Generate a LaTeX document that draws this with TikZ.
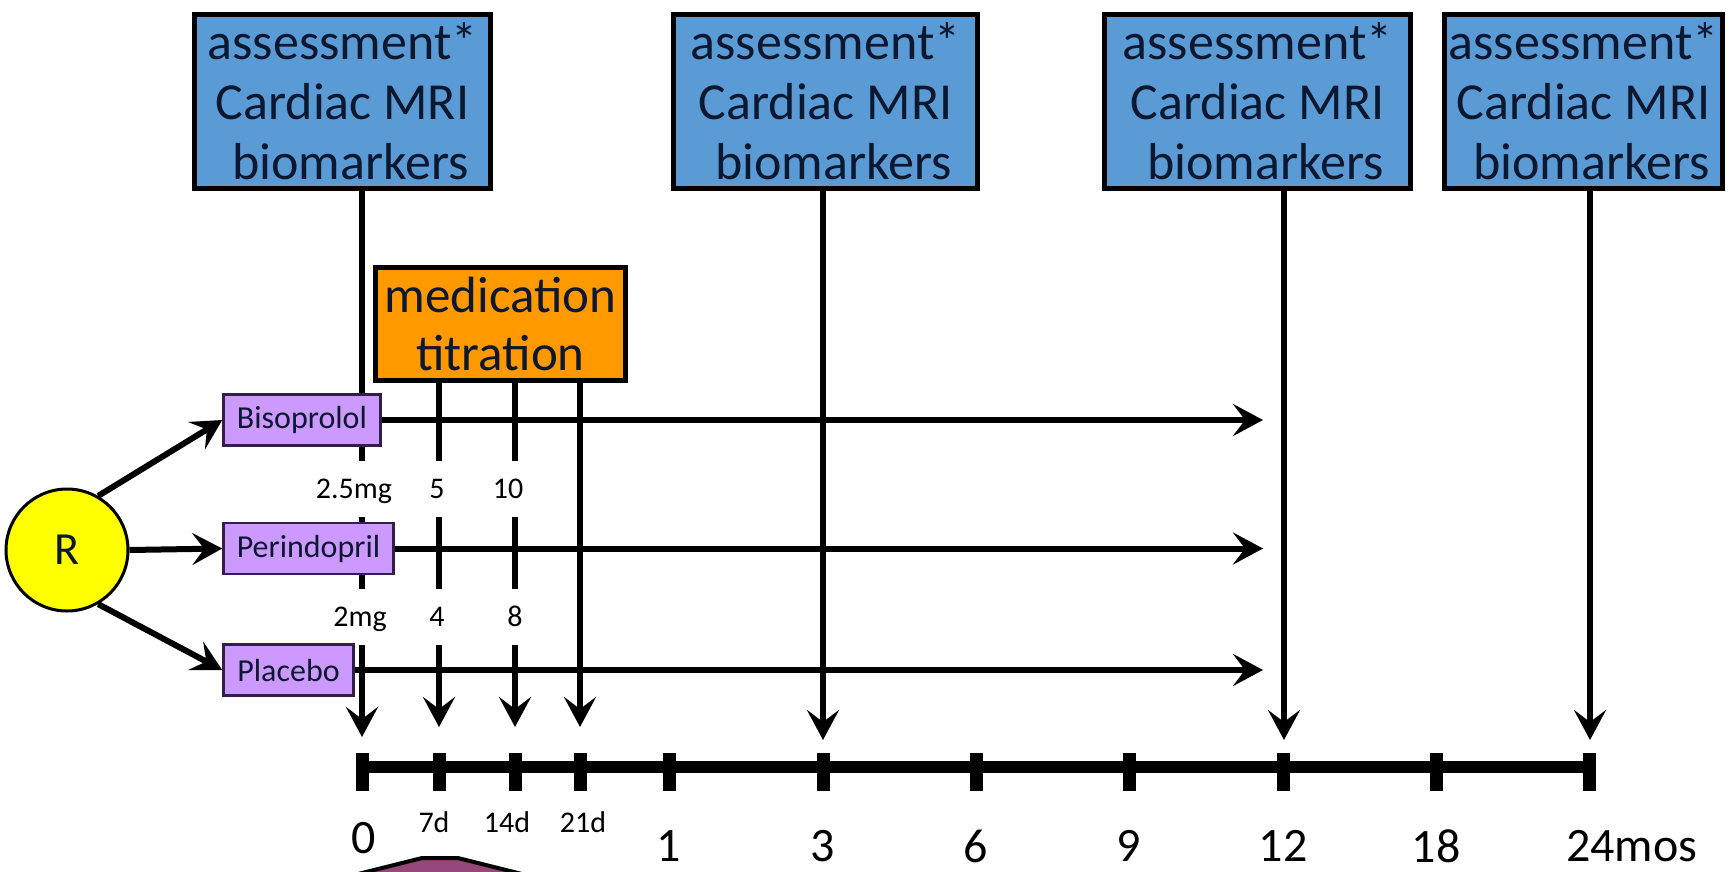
\documentclass[tikz,border=0pt]{standalone}
\usepackage{fontspec}
\setmainfont{Carlito}
\usetikzlibrary{arrows.meta}
\definecolor{assessblue}{RGB}{91,155,213}
\definecolor{medorange}{RGB}{255,153,0}
\definecolor{drugpurple}{RGB}{204,153,255}
\definecolor{drugborder}{RGB}{50,30,70}
\definecolor{ryellow}{RGB}{255,255,0}
\definecolor{plum}{RGB}{150,72,122}
\definecolor{boxtext}{RGB}{12,24,48}
\begin{document}
\begin{tikzpicture}[x=1pt,y=-1pt,
  assess/.style={draw=black,line width=5pt,fill=assessblue,text=boxtext,align=center,inner sep=0pt,
    minimum height=174pt,font=\fontsize{52}{60}\selectfont},
  medbox/.style={draw=black,line width=5pt,fill=medorange,text=boxtext,align=center,inner sep=0pt,
    font=\fontsize{51}{58}\selectfont},
  drug/.style={draw=drugborder,line width=2.5pt,fill=drugpurple,text=boxtext,inner sep=0pt,
    minimum height=51pt,font=\fontsize{32}{32}\selectfont},
  rnode/.style={circle,draw=black,line width=3pt,fill=ryellow,text=boxtext,minimum size=122pt,inner sep=0pt,
    font=\fontsize{46}{46}\selectfont},
  arr/.style={line width=6pt,-{Stealth[length=30pt,width=32pt,inset=12pt]}},
  doselab/.style={fill=white,inner xsep=2pt,inner ysep=0pt,text height=19pt,text depth=0pt,
    minimum height=56pt,font=\fontsize{30}{30}\selectfont},
  biglab/.style={inner sep=0pt,font=\fontsize{48}{48}\selectfont},
  smalllab/.style={inner sep=0pt,font=\fontsize{30}{30}\selectfont},
  tick/.style={line width=13pt}
]
\useasboundingbox (0,0) rectangle (1729,871);
\fill[white] (0,0) rectangle (1729,871);

% timeline coordinates
\coordinate (T0) at (362,767);
\coordinate (T24) at (1589,767);
% arrow end coordinates
\coordinate (A0) at (362,737);
\coordinate (A7) at (439,727);
\coordinate (A14) at (515,727);
\coordinate (A21) at (580,727);
\coordinate (A3) at (823,740);
\coordinate (A12) at (1284,740);
\coordinate (A24) at (1590,740);
\coordinate (E) at (1263,0);

% assessment boxes
\node[assess,minimum width=296pt] (b1) at (342.5,101.5) {assessment*\\Cardiac MRI\\\hspace*{16pt}biomarkers};
\node[assess,minimum width=304pt] (b2) at (825.5,101.5) {assessment*\\Cardiac MRI\\\hspace*{16pt}biomarkers};
\node[assess,minimum width=306pt] (b3) at (1257.5,101.5) {assessment*\\Cardiac MRI\\\hspace*{16pt}biomarkers};
\node[assess,minimum width=278pt] (b4) at (1583.5,101.5) {assessment*\\Cardiac MRI\\\hspace*{16pt}biomarkers};

% medication titration
\node[medbox,minimum width=250pt,minimum height=113pt] (med) at (500.5,324) {medication\\titration};

% vertical arrows
\draw[arr] (b1.south -| A0) -- (A0);
\draw[arr] (b2.south -| A3) -- (A3);
\draw[arr] (b3.south -| A12) -- (A12);
\draw[arr] (b4.south -| A24) -- (A24);
\draw[arr] (med.south -| A7) -- (A7);
\draw[arr] (med.south -| A14) -- (A14);
\draw[arr] (med.south -| A21) -- (A21);

% dose labels (break the lines)
\node[doselab] (d1) at (354,489) {2.5mg};
\node[doselab] (d2) at (437,489) {5};
\node[doselab] (d3) at (508,489) {10};
\node[doselab] (d4) at (360,616.5) {2mg};
\node[doselab] (d5) at (437,616.5) {4};
\node[doselab] (d6) at (515,616.5) {8};

% randomisation and arms
\node[rnode] (R) at (67,550) {R};
\node[drug,minimum width=157pt] (bis) at (302,420) {Bisoprolol};
\node[drug,minimum width=170pt] (per) at (308.5,548.5) {Perindopril};
\node[drug,minimum width=130pt] (pla) at (288.5,670) {Placebo};

\draw[arr] (R.60) -- (bis.west);
\draw[arr] (R.0) -- (per.west);
\draw[arr] (R.-60) -- (pla.west);

\draw[arr] (bis.east) -- (bis.east -| E);
\draw[arr] (per.east) -- (per.east -| E);
\draw[arr] (pla.east) -- (pla.east -| E);

% timeline
\draw[line width=12pt] (T0) -- (T24);
\foreach \x in {362,439,515,580,669,823,976,1129,1283,1436,1589}
  \draw[tick] (\x,753) -- (\x,791);

% partial shape at the bottom
\filldraw[fill=plum,draw=black,line width=4pt] (318,884) -- (422,858) -- (458,858) -- (562,884);

% timeline labels
\node[biglab] (l0) at (364,838) {0};
\node[smalllab] (l7) at (434,822) {7d};
\node[smalllab] (l14) at (507,822) {14d};
\node[smalllab] (l21) at (583,822) {21d};
\node[biglab] (l1) at (669,846) {1};
\node[biglab] (l3) at (823,846) {3};
\node[biglab] (l6) at (976,846) {6};
\node[biglab] (l9) at (1129,846) {9};
\node[biglab] (l12) at (1283,846) {12};
\node[biglab] (l18) at (1436,846) {18};
\node[biglab,anchor=west] (l24) at (1566,846) {24mos};
\end{tikzpicture}
\end{document}
